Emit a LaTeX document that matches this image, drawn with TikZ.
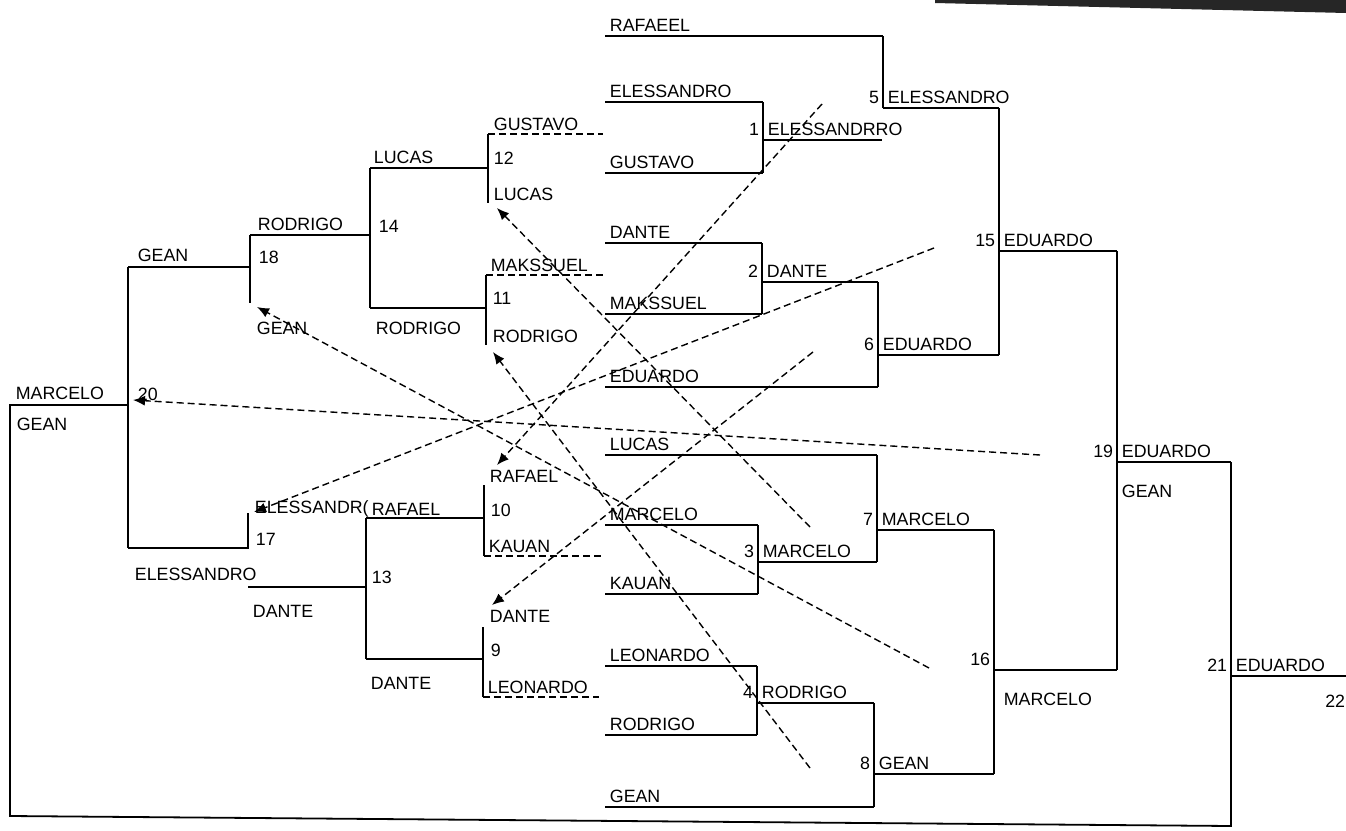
\documentclass[tikz,border=0pt]{standalone}
\usepackage{fontspec}
\setmainfont{Liberation Sans}
\usetikzlibrary{arrows.meta}

\begin{document}
\begin{tikzpicture}[x=0.5pt, y=-0.5pt, line width=0.9pt,
        every node/.append style={font=\fontsize{8.9}{10}\selectfont, inner sep=0pt},
        cross/.style={line width=0.7pt, dash pattern=on 3.5pt off 2pt, -{Latex[length=6pt,width=5pt]}}]
      \tikzstyle{word} = [anchor=base west]
      \tikzstyle{num} = [anchor=base east]
      \tikzstyle{bye} = [line width=0.7pt, dash pattern=on 3.5pt off 2pt]
      \useasboundingbox (0,0) rectangle (1346,831);
      \fill[black!85] (935,0) -- (1346,0) -- (1346,13) -- (935,3) -- cycle;

      \foreach \i/\y/\xe/\nm in {1/36/883/RAFAEEL, 2/102/763/ELESSANDRO, 3/173/763/GUSTAVO,
          4/243/762/DANTE, 5/314/762/MAKSSUEL, 6/387/878/EDUARDO, 7/455/877/LUCAS,
          8/525/758/MARCELO, 9/594/758/KAUAN, 10/666/757/LEONARDO, 11/735/757/RODRIGO, 12/807/874/GEAN}
      {
        \coordinate (s\i) at (605,\y);
        \coordinate (e\i) at (\xe,\y);
        \node[word] (n\i) at (609,{\y-5}) {\nm};
        \draw (s\i) -- (e\i);
      }

      \foreach \m/\x/\y/\xe/\nm in {1/763/140/882/ELESSANDRRO, 2/762/282/878/DANTE, 3/758/562/877/MARCELO,
          4/757/703/874/RODRIGO, 5/883/108/999/ELESSANDRO, 6/878/355/999/EDUARDO, 7/877/530/994/MARCELO,
          8/874/774/994/GEAN, 15/999/251/1117/EDUARDO, 19/1117/462/1231/EDUARDO, 21/1231/676/1346/EDUARDO}
      {
        \coordinate (m\m) at (\x,\y);
        \coordinate (o\m) at (\xe,\y);
        \node[num] (k\m) at ({\x-3},{\y-5}) {\m};
        \node[word] (w\m) at ({\x+4},{\y-5}) {\nm};
        \draw (m\m) -- (o\m);
      }
      \coordinate (m16) at (994,670);
      \coordinate (o16) at (1117,670);
      \node[num] (k16) at (991,665) {16};
      \node[word] (w16) at (1003,705) {MARCELO};
      \node[word] (g19) at (1121,497) {GEAN};
      \node[num] (k22) at (1346,707) {22};
      \draw (m16) -- (o16);

      \draw (e2) -- (e3);
      \draw (e4) -- (e5);
      \draw (e8) -- (e9);
      \draw (e10) -- (e11);
      \draw (e1) -- (m5);
      \draw (o2) -- (e6);
      \draw (e7) -- (o3);
      \draw (o4) -- (e12);
      \draw (o5) -- (o6);
      \draw (o7) -- (o8);
      \draw (o15) -- (o16);
      \coordinate (c21) at (1231,826);
      \coordinate (c20b) at (10,816);
      \coordinate (c20a) at (10,405);
      \coordinate (m20) at (128,405);
      \draw (o19) -- (c21) -- (c20b) -- (c20a) -- (m20);

      \coordinate (t12) at (488,134);
      \coordinate (m12) at (488,168);
      \coordinate (b12) at (488,203);
      \coordinate (d12) at (603,134);
      \coordinate (t11) at (486,275);
      \coordinate (m11) at (486,308);
      \coordinate (b11) at (486,345);
      \coordinate (d11) at (605,275);
      \coordinate (m14t) at (370,168);
      \coordinate (m14) at (370,235);
      \coordinate (m14b) at (370,308);
      \coordinate (m18t) at (250,235);
      \coordinate (m18) at (250,267);
      \coordinate (b18) at (250,303);
      \coordinate (m20t) at (128,267);
      \coordinate (m20b) at (128,548);
      \coordinate (t17) at (248,513);
      \coordinate (m17) at (248,548);
      \coordinate (m13t) at (366,518);
      \coordinate (m13) at (366,587);
      \coordinate (m13b) at (366,659);
      \coordinate (o13) at (248,587);
      \coordinate (t10) at (484,485);
      \coordinate (m10) at (484,518);
      \coordinate (b10) at (484,556);
      \coordinate (d10) at (601,556);
      \coordinate (t9) at (483,627);
      \coordinate (m9) at (483,659);
      \coordinate (b9) at (483,697);
      \coordinate (d9) at (599,697);

      \draw (t12) -- (b12);
      \draw (m12) -- (m14t);
      \draw[bye] (t12) -- (d12);
      \draw (t11) -- (b11);
      \draw (m11) -- (m14b);
      \draw[bye] (t11) -- (d11);
      \draw (m14t) -- (m14b);
      \draw (m14) -- (m18t);
      \draw (m18t) -- (b18);
      \draw (m18) -- (m20t);
      \draw (m20t) -- (m20b);
      \draw (t17) -- (m17) -- (m20b);
      \draw (m13t) -- (m13b);
      \draw (m13) -- (o13);
      \draw (t10) -- (b10);
      \draw (m10) -- (m13t);
      \draw[bye] (b10) -- (d10);
      \draw (t9) -- (b9);
      \draw (m9) -- (m13b);
      \draw[bye] (b9) -- (d9);

      \node[word] (l12a) at (493,130) {GUSTAVO};
      \node[word] (l12) at (493,164) {12};
      \node[word] (l12b) at (493,200) {LUCAS};
      \node[word] (l11a) at (490,271) {MAKSSUEL};
      \node[word] (l11) at (492,304) {11};
      \node[word] (l11b) at (492,342) {RODRIGO};
      \node[word] (l14a) at (373,163) {LUCAS};
      \node[word] (l14) at (378,232) {14};
      \node[word] (l14b) at (375,334) {RODRIGO};
      \node[word] (l18a) at (257,230) {RODRIGO};
      \node[word] (l18) at (258,263) {18};
      \node[word] (l18b) at (256,334) {GEAN};
      \node[word] (l20a) at (137,261) {GEAN};
      \node[word] (l20) at (137,400) {20};
      \node[word] (l20b) at (15,399) {MARCELO};
      \node[word] (l20c) at (16,430) {GEAN};
      \node[word] (l17a) at (254,513) {ELESSANDR(};
      \node[word] (l17) at (255,545) {17};
      \node[word] (l13a) at (371,515) {RAFAEL};
      \node[word] (l13) at (371,583) {13};
      \node[word] (l13b) at (370,689) {DANTE};
      \node[word] (l13c) at (134,580) {ELESSANDRO};
      \node[word] (l13d) at (252,617) {DANTE};
      \node[word] (l10a) at (489,482) {RAFAEL};
      \node[word] (l10) at (490,516) {10};
      \node[word] (l10b) at (488,552) {KAUAN};
      \node[word] (l9a) at (489,622) {DANTE};
      \node[word] (l9) at (490,656) {9};
      \node[word] (l9b) at (487,693) {LEONARDO};

      \coordinate (x1) at (822,104);
      \coordinate (a10) at (497,465);
      \coordinate (x2) at (934,248);
      \coordinate (a17) at (254,512);
      \coordinate (x3) at (813,352);
      \coordinate (a9) at (492,605);
      \coordinate (x4) at (1040,455);
      \coordinate (a20) at (133,400);
      \coordinate (x5) at (810,527);
      \coordinate (a12) at (497,208);
      \coordinate (x6) at (810,768);
      \coordinate (a11) at (493,352);
      \coordinate (x7) at (929,668);
      \coordinate (a18) at (257,307);
      \draw[cross] (x1) -- (a10);
      \draw[cross] (x2) -- (a17);
      \draw[cross] (x3) -- (a9);
      \draw[cross] (x4) -- (a20);
      \draw[cross] (x5) -- (a12);
      \draw[cross] (x6) -- (a11);
      \draw[cross] (x7) -- (a18);
    \end{tikzpicture}
\end{document}
